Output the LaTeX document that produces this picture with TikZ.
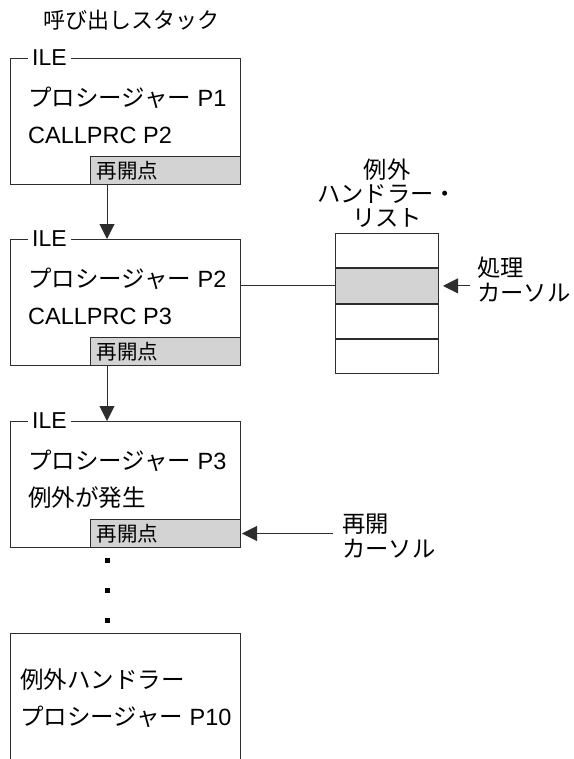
\documentclass[tikz,border=0pt]{standalone}
\usepackage{fontspec}
\setmainfont{Liberation Sans}
\newfontfamily\jp{Noto Sans CJK JP}
\usetikzlibrary{arrows.meta,positioning,calc}
\definecolor{framegray}{RGB}{45,45,45}
\definecolor{cellgray}{RGB}{211,211,211}

\begin{document}
\begin{tikzpicture}[
  x=1pt, y=-1pt,
  >={Triangle[length=15pt,width=15pt]},
  frame/.style={
    draw=framegray,
    line width=1pt,
    minimum width=230pt,
    minimum height=126pt,
    inner sep=0pt,
    anchor=north west
  },
  cell/.style={
    draw=framegray,
    fill=cellgray,
    line width=1pt,
    minimum width=150pt,
    minimum height=28pt,
    inner ysep=0pt,
    inner xsep=6pt,
    text width=138pt,
    align=left,
    anchor=south east,
    font=\jp\fontsize{20.5}{22}\selectfont
  },
  ile/.style={
    fill=white,
    inner xsep=4pt,
    inner ysep=1pt,
    anchor=west,
    font=\fontsize{23}{24}\selectfont
  },
  txt/.style={
    anchor=west,
    inner sep=0pt,
    font=\fontsize{23.5}{25}\selectfont
  },
  hrow/.style={
    draw=framegray,
    line width=1pt,
    minimum width=103pt,
    minimum height=34.25pt,
    inner sep=0pt
  },
  cursor/.style={
    align=left,
    anchor=west,
    inner sep=2pt,
    font=\jp\fontsize{23.3}{25}\selectfont
  },
  dot/.style={fill=black, inner sep=0pt, minimum size=5pt}
]
  \useasboundingbox (0,0) rectangle (573,759);

  % Call stack
  \node[font=\jp\fontsize{22}{24}\selectfont] (title) at (131,20) {呼び出しスタック};

  \node[frame] (p1) at (10,58) {};
  \node[frame] (p2) at (10,239) {};
  \node[frame] (p3) at (10,421) {};

  \node[cell] (r1) at (p1.south east) {再開点};
  \node[cell] (r2) at (p2.south east) {再開点};
  \node[cell] (r3) at (p3.south east) {再開点};

  \node[ile] (i1) at ($(p1.north west)+(18,0)$) {ILE};
  \node[ile] (i2) at ($(p2.north west)+(18,0)$) {ILE};
  \node[ile] (i3) at ($(p3.north west)+(18,0)$) {ILE};

  \node[txt] (t1a) at ($(p1.north west)+(18,40)$) {{\jp プロシージャー} P1};
  \node[txt] (t1b) at ($(p1.north west)+(18,77)$) {CALLPRC P2};
  \node[txt] (t2a) at ($(p2.north west)+(18,40)$) {{\jp プロシージャー} P2};
  \node[txt] (t2b) at ($(p2.north west)+(18,77)$) {CALLPRC P3};
  \node[txt] (t3a) at ($(p3.north west)+(18,40)$) {{\jp プロシージャー} P3};
  \node[txt] (t3b) at ($(p3.north west)+(18,77)$) {{\jp 例外が発生}};

  \draw[->, framegray, line width=1pt] ($(p1.south west)+(97,0)$) -- ($(p2.north west)+(97,0)$);
  \draw[->, framegray, line width=1pt] ($(p2.south west)+(97,0)$) -- ($(p3.north west)+(97,0)$);

  \foreach \y [count=\i] in {560,590,620}
    \node[dot] (d\i) at (107,\y) {};

  % Handler procedure (open at the bottom)
  \coordinate (p4) at (10,633);
  \draw[framegray, line width=1pt] ($(p4)+(0,130)$) -- (p4) -- ($(p4)+(230,0)$) -- ($(p4)+(230,130)$);
  \node[txt] (t4a) at ($(p4)+(10,47)$) {{\jp 例外ハンドラー}};
  \node[txt] (t4b) at ($(p4)+(10,84)$) {{\jp プロシージャー} P10};

  % Handler list
  \node[hrow, anchor=north west] (h1) at (335,233) {};
  \node[hrow, fill=cellgray, below=0pt of h1] (h2) {};
  \node[hrow, below=0pt of h2] (h3) {};
  \node[hrow, below=0pt of h3] (h4) {};
  \node[font=\jp\fontsize{23.3}{24}\selectfont, align=center, above=2pt of h1] (htitle) {例外\\ハンドラー・\\リスト};

  \draw[framegray, line width=1pt] (h2.west -| p2.east) -- (h2.west);

  % Cursors
  \node[cursor] (hcur) at (475,280) {処理\\カーソル};
  \draw[->, framegray, line width=1pt, shorten <=5pt, shorten >=4pt] (hcur.west |- h2.east) -- (h2.east);

  \node[cursor] (rcur) at (340,536) {再開\\カーソル};
  \draw[->, framegray, line width=1pt, shorten <=7pt, shorten >=1pt] (rcur.west |- r3.east) -- (r3.east);

\end{tikzpicture}
\end{document}
